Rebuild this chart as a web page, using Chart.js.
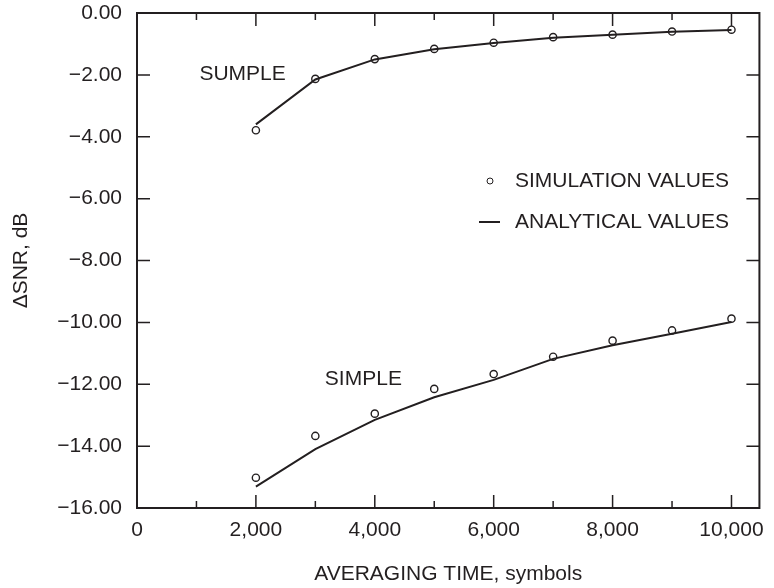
<!DOCTYPE html>
<html>
<head>
<meta charset="utf-8">
<script src="https://cdn.jsdelivr.net/npm/chart.js@4.4.1/dist/chart.umd.min.js"></script>
<style>
  html, body { margin: 0; padding: 0; background: #fff; }
</style>
</head>
<body>
<canvas id="snrChart" width="774" height="588"></canvas>
<script>
const INK = '#231f20';

// averaging time in symbols
const averagingTime = [2000, 3000, 4000, 5000, 6000, 7000, 8000, 9000, 10000];

// ΔSNR in dB
const sumpleSimulated  = [-3.79, -2.13, -1.49, -1.16, -0.96, -0.78, -0.70, -0.60, -0.54];
const sumpleAnalytical = [-3.60, -2.15, -1.50, -1.17, -0.97, -0.80, -0.70, -0.61, -0.55];
const simpleSimulated  = [-15.02, -13.67, -12.95, -12.15, -11.67, -11.11, -10.59, -10.26, -9.88];
const simpleAnalytical = [-15.31, -14.10, -13.15, -12.42, -11.86, -11.18, -10.74, -10.37, -9.99];

// tick marks every 1000 symbols, labels every 2000
const xTickValues = [0, 1000, 2000, 3000, 4000, 5000, 6000, 7000, 8000, 9000, 10000];

const curveNames = ['SUMPLE', 'SIMPLE'];
const legendLabels = ['SIMULATION VALUES', 'ANALYTICAL VALUES'];
const xTitle = 'AVERAGING TIME, symbols';
const yTitle = '\u0394SNR, dB';

const toPoints = ys => ys.map((v, i) => ({ x: averagingTime[i], y: v }));

const lineSet = ys => ({
  data: toPoints(ys),
  borderColor: INK,
  borderWidth: 2,
  pointRadius: 0,
  tension: 0,
  fill: false
});

const markerSet = ys => ({
  data: toPoints(ys),
  showLine: false,
  pointStyle: 'circle',
  pointRadius: 3.6,
  pointBorderWidth: 1.4,
  pointBorderColor: INK,
  pointBackgroundColor: 'rgba(0,0,0,0)'
});

const withComma = v => String(v).replace(/\B(?=(\d{3})+(?!\d))/g, ',');

// frame with inward ticks, curve names and the legend
const frameAndLabels = {
  id: 'frameAndLabels',
  afterDatasetsDraw(chart) {
    const { ctx, chartArea: a, scales: { x, y } } = chart;
    ctx.save();
    ctx.strokeStyle = INK;
    ctx.lineWidth = 2;
    ctx.strokeRect(a.left, a.top, a.right - a.left, a.bottom - a.top);

    ctx.lineWidth = 1.5;
    ctx.beginPath();
    x.ticks.forEach(t => {
      const px = x.getPixelForValue(t.value);
      const len = t.value % 2000 === 0 ? 13 : 7;
      ctx.moveTo(px, a.bottom); ctx.lineTo(px, a.bottom - len);
      ctx.moveTo(px, a.top); ctx.lineTo(px, a.top + len);
    });
    y.ticks.forEach(t => {
      const py = y.getPixelForValue(t.value);
      ctx.moveTo(a.left, py); ctx.lineTo(a.left + 13, py);
      ctx.moveTo(a.right, py); ctx.lineTo(a.right - 13, py);
    });
    ctx.stroke();

    ctx.fillStyle = INK;
    ctx.font = '21px "Liberation Sans", Arial, sans-serif';
    ctx.textAlign = 'left';
    ctx.textBaseline = 'middle';
    ctx.fillText(curveNames[0], x.getPixelForValue(1050), y.getPixelForValue(-1.99));
    ctx.fillText(curveNames[1], x.getPixelForValue(3160), y.getPixelForValue(-11.83));

    // legend
    const lx = a.left + 378, ly1 = a.top + 168, ly2 = a.top + 209;
    ctx.lineWidth = 1;
    ctx.beginPath();
    ctx.arc(lx - 25, ly1, 3, 0, Math.PI * 2);
    ctx.stroke();
    ctx.lineWidth = 2;
    ctx.beginPath();
    ctx.moveTo(lx - 36, ly2); ctx.lineTo(lx - 15, ly2);
    ctx.stroke();
    ctx.fillText(legendLabels[0], lx, ly1);
    ctx.fillText(legendLabels[1], lx, ly2);
    ctx.restore();
  }
};

Chart.defaults.font.family = '"Liberation Sans", Arial, sans-serif';
Chart.defaults.font.size = 21;
Chart.defaults.color = INK;

new Chart(document.getElementById('snrChart'), {
  type: 'line',
  data: {
    datasets: [
      lineSet(sumpleAnalytical),
      markerSet(sumpleSimulated),
      lineSet(simpleAnalytical),
      markerSet(simpleSimulated)
    ]
  },
  options: {
    responsive: false,
    animation: false,
    layout: { padding: { top: 13, right: 9, left: 0, bottom: 0 } },
    plugins: { legend: { display: false }, tooltip: { enabled: false } },
    scales: {
      x: {
        type: 'linear',
        min: 0,
        max: 10470,
        afterBuildTicks: s => { s.ticks = xTickValues.map(v => ({ value: v })); },
        ticks: {
          autoSkip: false,
          maxRotation: 0,
          padding: 10,
          callback: v => (v % 2000 === 0 ? withComma(v) : '')
        },
        grid: { display: false, drawTicks: false },
        border: { display: false },
        title: { display: true, text: xTitle, padding: { top: 0, bottom: 1 } },
        afterFit: s => { s.height = 80; }
      },
      y: {
        min: -16,
        max: 0,
        ticks: {
          stepSize: 2,
          padding: 15,
          callback: v => (v < 0 ? '\u2212' : '') + Math.abs(v).toFixed(2)
        },
        grid: { display: false, drawTicks: false },
        border: { display: false },
        title: { display: true, text: yTitle, padding: { top: 9, bottom: 0 } },
        afterFit: s => {
          s.width = 137;
          s.paddingTop = 0;
          s.paddingBottom = 0;
        }
      }
    }
  },
  plugins: [frameAndLabels]
});
</script>
</body>
</html>
